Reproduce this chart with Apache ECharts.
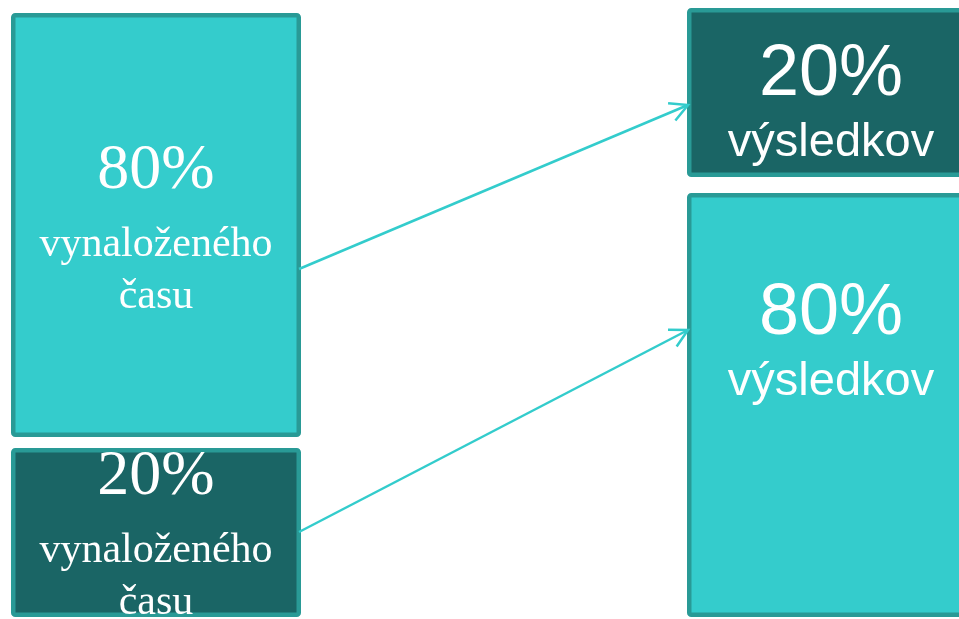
<!DOCTYPE html>
<html>
<head>
<meta charset="utf-8">
<script src="https://cdn.jsdelivr.net/npm/echarts@6/dist/echarts.min.js"></script>
<style>
html,body{margin:0;padding:0;background:#fff;}
#main{width:959px;height:619px;}
</style>
</head>
<body>
<div id="main"></div>
<script>
// ---- data ----
const timeShares = [80, 20];            // % of time spent (left column, top to bottom)
const resultShares = [20, 80];          // % of results (right column, top to bottom)
const timeCaption = ['vynaloženého', 'času'];
const resultCaption = ['výsledkov'];
const flows = [[0, 0], [1, 1]];         // left box index -> right box index

// ---- layout / style (pixel space of the 959x619 canvas) ----
const layout = {
  left: {
    x0: 11, x1: 301,
    boxes: [[13, 437], [448, 617]],
    fills: ['#34CCCC', '#1A6565'],
    baselines: [189, 495],
    lineGaps: [68, 52],
    font: 'Liberation Serif',
    sizes: [64, 42],
    anchorY: [269, 532]
  },
  right: {
    x0: 687, x1: 975,
    boxes: [[8, 177], [193, 617]],
    fills: ['#1A6565', '#34CCCC'],
    baselines: [95, 334],
    lineGaps: [61],
    font: 'Liberation Sans',
    sizes: [72, 47],
    anchorY: [105, 330]
  }
};
const borderColor = '#299A96';
const borderW = 4.5;
const arrowColor = '#33CCCC';

function boxRenderer(col, captions) {
  return function (params, api) {
    const i = api.value(0);
    const v = api.value(1);
    const [y0, y1] = col.boxes[i];
    const p0 = api.coord([col.x0, y0]);
    const p1 = api.coord([col.x1, y1]);
    const h = borderW / 2;
    const children = [{
      type: 'rect',
      shape: { x: p0[0] + h, y: p0[1] + h, width: p1[0] - p0[0] - borderW, height: p1[1] - p0[1] - borderW, r: 2 },
      style: { fill: col.fills[i], stroke: borderColor, lineWidth: borderW }
    }];
    const cx = (p0[0] + p1[0]) / 2;
    const lines = [v + '%'].concat(captions);
    let base = api.coord([0, col.baselines[i]])[1];
    lines.forEach((t, k) => {
      const size = k === 0 ? col.sizes[0] : col.sizes[1];
      if (k > 0) base += col.lineGaps[Math.min(k - 1, col.lineGaps.length - 1)];
      children.push({
        type: 'text',
        style: {
          x: cx, y: base - 0.28 * size,
          text: t,
          fill: '#ffffff',
          font: size + 'px "' + col.font + '"',
          align: 'center', verticalAlign: 'middle'
        }
      });
    });
    return { type: 'group', children: children };
  };
}

function arrowRenderer(params, api) {
  const a = api.value(0), b = api.value(1);
  const s = api.coord([layout.left.x1 - 2, layout.left.anchorY[a]]);
  const e = api.coord([layout.right.x0 + 1, layout.right.anchorY[b]]);
  const ang = Math.atan2(s[1] - e[1], s[0] - e[0]);
  const L = 20, spread = 28 * Math.PI / 180;
  const b1 = [e[0] + L * Math.cos(ang + spread), e[1] + L * Math.sin(ang + spread)];
  const b2 = [e[0] + L * Math.cos(ang - spread), e[1] + L * Math.sin(ang - spread)];
  return {
    type: 'group',
    children: [
      { type: 'line', shape: { x1: s[0], y1: s[1], x2: e[0], y2: e[1] }, style: { stroke: arrowColor, lineWidth: 2.5 } },
      { type: 'polyline', shape: { points: [b1, e, b2] }, style: { stroke: arrowColor, lineWidth: 2.5, fill: null } }
    ]
  };
}

const chart = echarts.init(document.getElementById('main'), null, { renderer: 'canvas' });
chart.setOption({
  animation: false,
  backgroundColor: '#ffffff',
  grid: { left: 0, right: 0, top: 0, bottom: 0 },
  xAxis: { type: 'value', min: 0, max: 959, show: false },
  yAxis: { type: 'value', min: 0, max: 619, inverse: true, show: false },
  series: [
    {
      type: 'custom', clip: false, z: 2,
      data: timeShares.map((v, i) => [i, v]),
      renderItem: boxRenderer(layout.left, timeCaption)
    },
    {
      type: 'custom', clip: false, z: 2,
      data: resultShares.map((v, i) => [i, v]),
      renderItem: boxRenderer(layout.right, resultCaption)
    },
    {
      type: 'custom', clip: false, z: 3,
      data: flows,
      renderItem: arrowRenderer
    }
  ]
});
</script>
</body>
</html>
